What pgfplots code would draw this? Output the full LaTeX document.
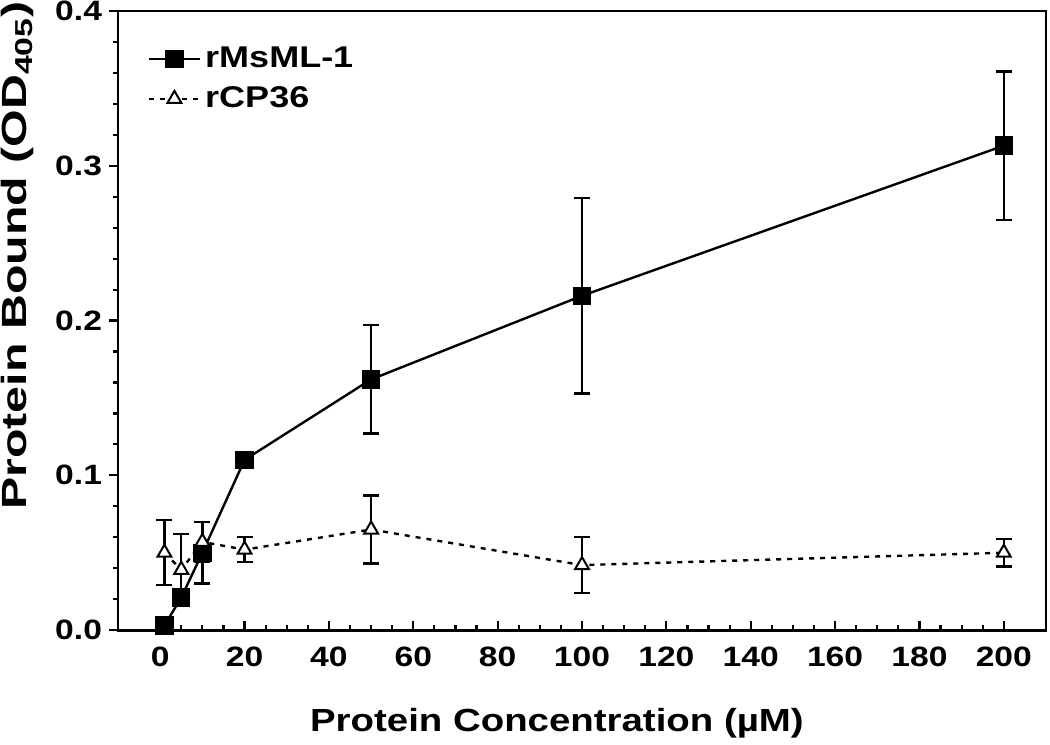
\documentclass[border=0pt]{standalone}
\usepackage{pgfplots}
\pgfplotsset{compat=1.18}
\usepackage{fontspec}
\setmainfont[FakeStretch=1.2]{Liberation Sans}
\newfontfamily\ylabfont[FakeStretch=1.38]{Liberation Sans}

\begin{document}
\begin{tikzpicture}
\begin{axis}[
    at={(0,0)}, anchor=south west,
    scale only axis,
    width=463.9pt, height=309.5pt,
    xmin=-10, xmax=210,
    ymin=0, ymax=0.4,
    xtick={0,20,...,200},
    ytick={0,0.1,...,0.4},
    minor x tick num=3,
    minor y tick num=4,
    xtick pos=bottom, ytick pos=left,
    xtick align=inside, ytick align=outside,
    major tick length=4.5pt, minor tick length=2.5pt,
    every tick/.style={black, line width=1.1pt},
    axis line style={line width=1.4pt},
    yticklabel style={/pgf/number format/.cd, fixed, fixed zerofill, precision=1},
    xticklabel style={yshift=-5pt},
    /pgf/number format/assume math mode=true,
    tick label style={font=\fontsize{14}{16}\selectfont\bfseries},
    xlabel={Protein Concentration (µM)},
    ylabel={Protein Bound (OD\textsubscript{405})},
    every axis x label/.style={at={(axis description cs:0.473,-0.15)}, anchor=center,
        font=\fontsize{16}{19}\selectfont\bfseries},
    every axis y label/.style={at={(axis description cs:-0.108,0.605)}, rotate=90, anchor=center,
        font=\ylabfont\fontsize{17.5}{20}\selectfont\bfseries},
    legend style={at={(axis description cs:0.025,0.955)}, anchor=north west,
        draw=none, fill=none, font=\fontsize{15}{18}\selectfont\bfseries,
        row sep=4pt},
    legend cell align=left,
    legend image code/.code={\draw[mark repeat=2,mark phase=2,#1]
        plot coordinates {(0cm,0cm)(0.45cm,0cm)(0.9cm,0cm)};},
]
\addplot[black, line width=1.2pt, mark=square*, mark size=4pt,
    mark options={solid},
    error bars/.cd, y dir=both, y explicit,
    error bar style={line width=1.2pt},
    error mark options={rotate=90, mark size=4pt, line width=1.2pt}]
    coordinates {
    (1,0.003) +- (0,0)
    (5,0.021) +- (0,0)
    (10,0.050) +- (0,0.020)
    (20,0.110) +- (0,0.003)
    (50,0.162) +- (0,0.035)
    (100,0.216) +- (0,0.063)
    (200,0.313) +- (0,0.048)
    };
\addlegendentry{rMsML-1}
\addplot[black, line width=1.2pt, dash pattern=on 2.5pt off 3pt,
    mark=triangle*, mark size=4pt,
    mark options={solid, fill=white, line width=1pt},
    error bars/.cd, y dir=both, y explicit,
    error bar style={line width=1.2pt, solid},
    error mark options={rotate=90, mark size=4pt, line width=1.2pt, solid}]
    coordinates {
    (1,0.050) +- (0,0.021)
    (5,0.039) +- (0,0.023)
    (10,0.057) +- (0,0.013)
    (20,0.052) +- (0,0.008)
    (50,0.065) +- (0,0.022)
    (100,0.042) +- (0,0.018)
    (200,0.050) +- (0,0.009)
    };
\addlegendentry{rCP36}
\end{axis}
\pgfresetboundingbox
\path[use as bounding box] (-59pt,-57pt) rectangle (465.9pt,315pt);
\end{tikzpicture}
\end{document}
